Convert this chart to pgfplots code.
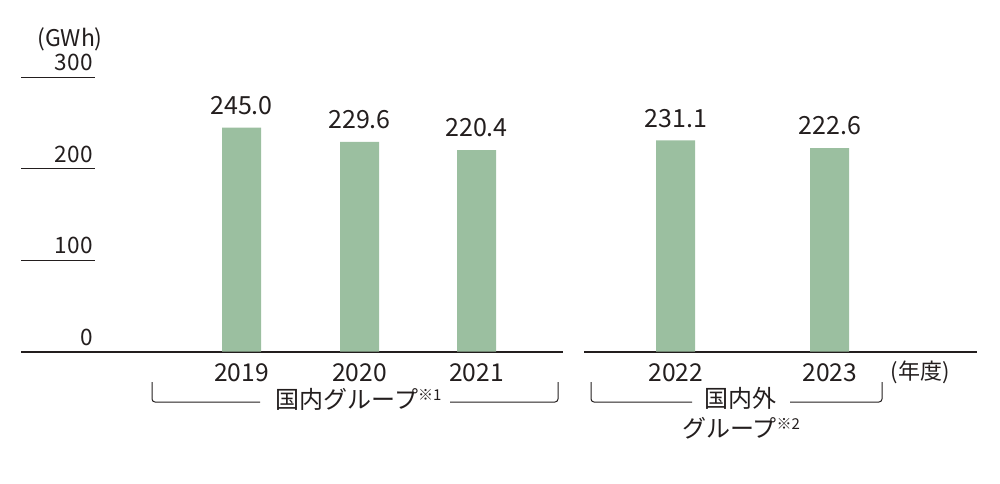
\documentclass[border=0pt]{standalone}
\usepackage{fontspec}
\setmainfont{Noto Sans CJK JP}
\usepackage{pgfplots}
\pgfplotsset{compat=1.18}
\definecolor{tc}{RGB}{35,30,30}
\definecolor{barc}{RGB}{155,191,160}
\begin{document}
\begin{tikzpicture}
\useasboundingbox (0,0) rectangle (500pt,241.5pt);
\pgfplotsset{
  common/.style={
    scale only axis, height=137.15pt, ymin=0, ymax=300,
    anchor=south west, clip=false,
    axis x line=bottom, axis y line=left,
    x axis line style={-, line width=1pt, color=tc},
    y axis line style={draw=none},
    x tick style={draw=none}, xtick align=inside,
    /pgf/number format/assume math mode=true,
    xticklabel style={font=\fontsize{12.3pt}{13pt}\selectfont, text=tc, inner sep=0pt, yshift=-5.8pt},
    yticklabel style={font=\fontsize{11.3pt}{12pt}\selectfont, text=tc, anchor=south east, inner sep=0pt, xshift=36pt, yshift=3pt},
    nodes near coords={\pgfmathprintnumber[fixed,fixed zerofill,precision=1]{\pgfplotspointmeta}},
    every node near coord/.append style={font=\fontsize{12.5pt}{13pt}\selectfont, text=tc, anchor=south, inner sep=0pt, yshift=6.3pt},
  }
}
\begin{axis}[common,
  at={(10.5pt,65.65pt)}, width=270.85pt,
  xmin=21, xmax=562.7,
  xtick={241.5,359.5,476.5}, xticklabels={2019,2020,2021},
  ytick={0,100,200,300}, ytick align=inside, major tick length=37pt,
  y tick style={line width=0.5pt, color=tc},
]
\addplot[ybar, fill=barc, draw=none, bar width=19.5pt] coordinates {(241.5,245.0) (359.5,229.6) (476.5,220.4)};
\end{axis}
\begin{axis}[common,
  at={(292pt,65.65pt)}, width=196.35pt,
  xmin=584, xmax=976.7,
  xtick={675.7,829.7}, xticklabels={2022,2023},
  ytick=\empty,
]
\addplot[ybar, fill=barc, draw=none, bar width=19.5pt] coordinates {(675.7,231.1) (829.7,222.6)};
\end{axis}
\begin{scope}[x=0.5pt, y=-0.5pt, shift={(0,241.5pt)}]
  \draw[tc, line width=0.5pt, rounded corners=1.5pt] (152,382) -- (152,402) -- (260,402);
  \draw[tc, line width=0.5pt, rounded corners=1.5pt] (450,402) -- (558,402) -- (558,382);
  \draw[tc, line width=0.5pt, rounded corners=1.5pt] (591,382) -- (591,402) -- (692,402);
  \draw[tc, line width=0.5pt, rounded corners=1.5pt] (790,402) -- (882,402) -- (882,382);
  \node[text=tc, inner sep=0pt, font=\fontsize{12pt}{13pt}\selectfont] at (358.5,399) {国内グループ\raisebox{3.8pt}{\fontsize{7.5pt}{8pt}\selectfont ※1}};
  \node[text=tc, inner sep=0pt, font=\fontsize{12pt}{13pt}\selectfont] at (740,398) {国内外};
  \node[text=tc, inner sep=0pt, font=\fontsize{12pt}{13pt}\selectfont] at (741,428) {グループ\raisebox{3.8pt}{\fontsize{7.5pt}{8pt}\selectfont ※2}};
  \node[text=tc, inner sep=0pt, font=\fontsize{11pt}{12pt}\selectfont] at (920,372) {(年度)};
  \node[text=tc, inner sep=0pt, font=\fontsize{11.5pt}{12pt}\selectfont] at (70,39) {(GWh)};
\end{scope}
\end{tikzpicture}
\end{document}
